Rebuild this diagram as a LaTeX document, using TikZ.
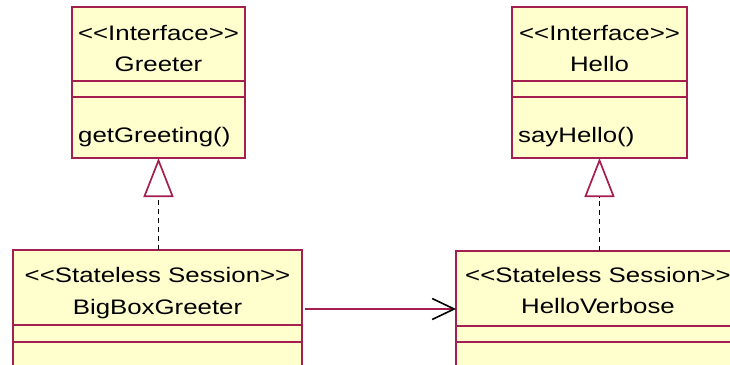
\documentclass[tikz,border=0pt]{standalone}
\usepackage{fontspec}
\newfontfamily\umlfont{Liberation Sans}[FakeStretch=1.23]
\usetikzlibrary{positioning,arrows.meta}
\definecolor{umlborder}{RGB}{165,30,80}
\definecolor{umlfill}{RGB}{255,255,206}
\tikzset{
  compart/.style={rectangle,draw=umlborder,fill=umlfill,line width=1.9pt,outer sep=0pt,inner sep=0pt},
  umltext/.style={font=\umlfont\fontsize{21}{26}\selectfont,inner sep=0pt,anchor=base},
  optext/.style={umltext,anchor=base west},
  realize/.style={black,line width=1.8pt,dash pattern=on 5pt off 4pt,
    -{Triangle[length=39pt,width=30pt,color=umlborder,fill=white,line width=1.7pt]}},
  assoc/.style={umlborder,line width=1.7pt,
    -{Straight Barb[length=22pt,width=21pt,color=black,line width=1.6pt]}}
}

\begin{document}
\begin{tikzpicture}[x=1pt,y=-1pt]
  \useasboundingbox[fill=white] (0,0) rectangle (730,364);
  \clip (0,0) rectangle (730,364);

  % interfaces
  \node[compart,anchor=north west,minimum width=173pt,minimum height=74pt](greeter)at(72,7){};
  \node[compart,below=0pt of greeter,minimum width=173pt,minimum height=16pt](greeterattr){};
  \node[compart,below=0pt of greeterattr,minimum width=173pt,minimum height=61pt](greeterops){};
  \node[umltext](greeterstereo)at(158.5,40){<<Interface>>};
  \node[umltext](greetername)at(158.5,71){Greeter};
  \node[optext](greeterop)at(78,142){getGreeting()};

  \node[compart,anchor=north west,minimum width=175pt,minimum height=74pt](hello)at(512,7){};
  \node[compart,below=0pt of hello,minimum width=175pt,minimum height=16pt](helloattr){};
  \node[compart,below=0pt of helloattr,minimum width=175pt,minimum height=61pt](helloops){};
  \node[umltext](hellostereo)at(599.5,40){<<Interface>>};
  \node[umltext](helloname)at(599.5,71){Hello};
  \node[optext](helloop)at(518,142){sayHello()};

  % session beans
  \node[compart,anchor=north west,minimum width=289pt,minimum height=75pt](bigbox)at(13,250){};
  \node[compart,below=0pt of bigbox,minimum width=289pt,minimum height=17pt](bigboxattr){};
  \node[compart,below=0pt of bigboxattr,minimum width=289pt,minimum height=40pt](bigboxops){};
  \node[umltext](bigboxstereo)at(157.5,282){<<Stateless Session>>};
  \node[umltext](bigboxname)at(157.5,314){BigBoxGreeter};

  \node[compart,anchor=north west,minimum width=284pt,minimum height=75pt](verbose)at(456,251){};
  \node[compart,below=0pt of verbose,minimum width=284pt,minimum height=16pt](verboseattr){};
  \node[compart,below=0pt of verboseattr,minimum width=284pt,minimum height=40pt](verboseops){};
  \node[umltext](verbosestereo)at(598,282){<<Stateless Session>>};
  \node[umltext](verbosename)at(598,313){HelloVerbose};

  % connectors
  \draw[realize](greeterops.south |- bigbox.north)--(greeterops.south);
  \draw[realize](helloops.south |- verbose.north)--(helloops.south);
  \coordinate(assocy)at(0,309);
  \draw[assoc,shorten <=3pt](bigbox.east |- assocy)--(verbose.west |- assocy);
\end{tikzpicture}
\end{document}
